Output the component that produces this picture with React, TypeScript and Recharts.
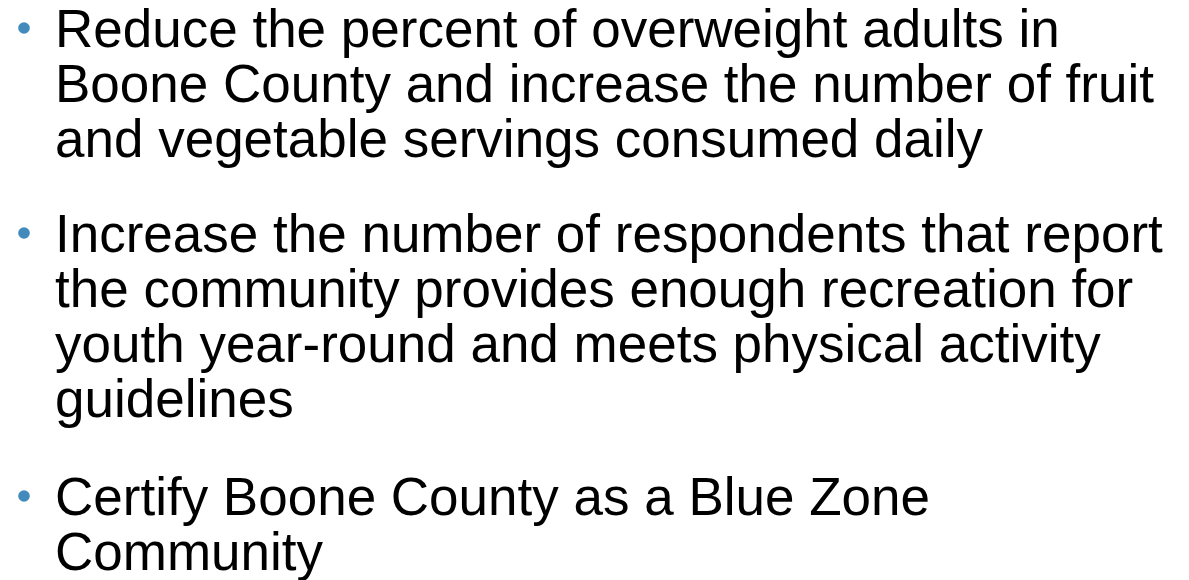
import React from 'react';
import { Surface, Layer, Text } from 'recharts';

// Slide content: each bullet is a list of wrapped lines
const bulletOne = [
  'Reduce the percent of overweight adults in',
  'Boone County and increase the number of fruit',
  'and vegetable servings consumed daily',
];
const bulletTwo = [
  'Increase the number of respondents that report',
  'the community provides enough recreation for',
  'youth year-round and meets physical activity',
  'guidelines',
];
const bulletThree = ['Certify Boone County as a Blue Zone', 'Community'];

const bullets = [bulletOne, bulletTwo, bulletThree];
// baseline of each bullet's first line
const firstBaselines = [47, 252, 515];

const WIDTH = 1189;
const HEIGHT = 580;
const FONT = '"Liberation Sans", Arial, sans-serif';
const FONT_SIZE = 53;
const LINE_HEIGHT = 55;
const TEXT_X = 55;
const BULLET_X = 24;
const BULLET_COLOR = '#428ABB';

const App: React.FC = () => {
  return (
    <div style={{ position: 'absolute', left: 0, top: 0, width: WIDTH, height: HEIGHT, background: '#fff' }}>
      <Surface width={WIDTH} height={HEIGHT}>
        {bullets.map((lines, i) => (
          <Layer key={`bullet-${i}`}>
            <circle cx={BULLET_X} cy={firstBaselines[i] - 19} r={5.8} fill={BULLET_COLOR} />
            {lines.map((line, j) => (
              <Text
                key={`line-${i}-${j}`}
                x={TEXT_X}
                y={firstBaselines[i] + j * LINE_HEIGHT}
                verticalAnchor="end"
                textAnchor="start"
                fontFamily={FONT}
                fontSize={FONT_SIZE}
                fill="#000"
              >
                {line}
              </Text>
            ))}
          </Layer>
        ))}
      </Surface>
    </div>
  );
};

export default App;
